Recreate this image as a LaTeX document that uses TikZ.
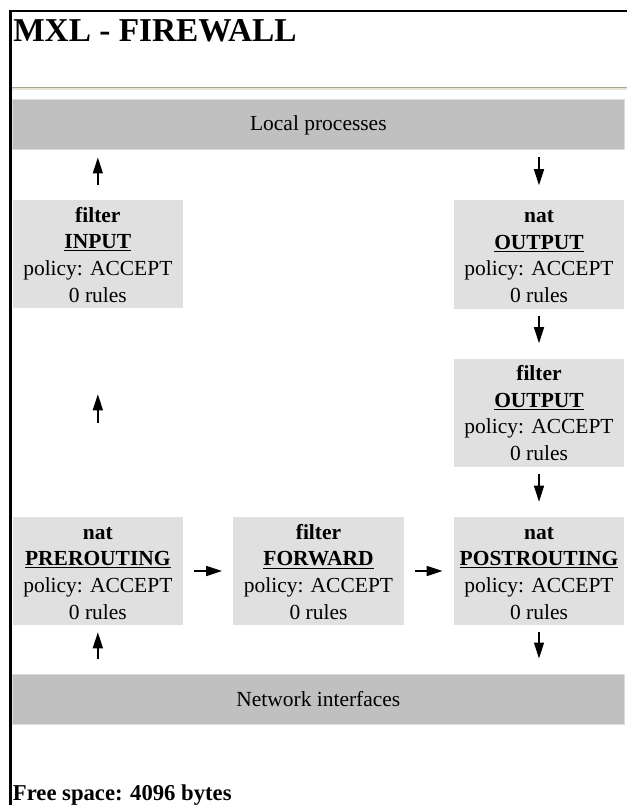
\documentclass[tikz,border=0pt]{standalone}
\usepackage{fontspec}
\setmainfont{Liberation Serif}
\usepackage{tikz}
\usetikzlibrary{arrows.meta}
\definecolor{boxgray}{RGB}{224,224,224}
\definecolor{bargray}{RGB}{192,192,192}
\definecolor{baredge}{RGB}{220,220,220}
\definecolor{hrdark}{RGB}{170,166,146}
\definecolor{hrlight}{RGB}{232,228,212}
\newcommand{\topstrut}{\rule{0pt}{14pt}}
\newcommand{\botstrut}{\rule[-2pt]{0pt}{2pt}}
\tikzstyle{arrow} = [line width=1.1pt,-{Triangle[length=12pt,width=7.5pt]}]
\tikzstyle{uparrow} = [shorten <=11.25pt, shorten >=5.25pt]
\tikzstyle{downarrow} = [shorten <=5.25pt, shorten >=11.25pt]
\tikzstyle{chainbox} = [rectangle, minimum width=127.7pt, minimum height=81pt, inner sep=0pt, fill=boxgray, align=center, font=\fontsize{16.1}{20}\selectfont]
\tikzstyle{layerbar} = [rectangle, minimum width=458.5pt, minimum height=37.5pt, inner sep=0pt, fill=bargray, draw=baredge, line width=0.75pt, font=\fontsize{16.1}{20}\selectfont]

\begin{document}
\begin{tikzpicture}[x=0.75pt,y=-0.75pt]
	\useasboundingbox (0,0) rectangle (627,805);
	\draw[line width=1.9pt] (627,11) -- (10.75,11) -- (10.75,805);
	\node[anchor=base west,inner sep=0pt,font=\fontsize{25}{30}\selectfont\bfseries](title) at (13,42){MXL - FIREWALL};
	\fill[hrlight] (12,87) rectangle (627,90);
	\draw[hrdark,line width=0.75pt] (12,87.5) -- (627,87.5);
	% layers
	\node[layerbar](local) at (318.35,125){Local processes};
	\node[layerbar](netif) at (318.35,699){Network interfaces};
	% chains
	\node[chainbox](input) at (97.85,254){\topstrut\textbf{filter}\\\textbf{\underline{INPUT}}\\policy: ACCEPT\\0 rules\botstrut};
	\node[chainbox](natout) at (539,254.5){\topstrut\textbf{nat}\\\textbf{\underline{OUTPUT}}\\policy: ACCEPT\\0 rules\botstrut};
	\node[chainbox](filtout) at (539,412.5){\topstrut\textbf{filter}\\\textbf{\underline{OUTPUT}}\\policy: ACCEPT\\0 rules\botstrut};
	\node[chainbox](prerout) at (97.85,571){\topstrut\textbf{nat}\\\textbf{\underline{PREROUTING}}\\policy: ACCEPT\\0 rules\botstrut};
	\node[chainbox](forward) at (318.5,571){\topstrut\textbf{filter}\\\textbf{\underline{FORWARD}}\\policy: ACCEPT\\0 rules\botstrut};
	\node[chainbox](postrout) at (539,571){\topstrut\textbf{nat}\\\textbf{\underline{POSTROUTING}}\\policy: ACCEPT\\0 rules\botstrut};
	\node[anchor=base west,inner sep=0pt,font=\fontsize{17}{20}\selectfont\bfseries](freespace) at (12.7,800){Free space: 4096 bytes};
	\path[arrow]
	(input) edge[uparrow] (input |- local.south)
	(natout |- local.south) edge[downarrow] (natout)
	(natout) edge[downarrow] (filtout)
	(filtout) edge[downarrow] (postrout)
	(prerout) edge[shorten <=70.5pt, shorten >=64.5pt] (input)
	(prerout) edge[shorten <=8.25pt, shorten >=8.25pt] (forward)
	(forward) edge[shorten <=8.25pt, shorten >=8.25pt] (postrout)
	(prerout |- netif.north) edge[uparrow] (prerout)
	(postrout) edge[downarrow] (postrout |- netif.north);
\end{tikzpicture}
\end{document}
